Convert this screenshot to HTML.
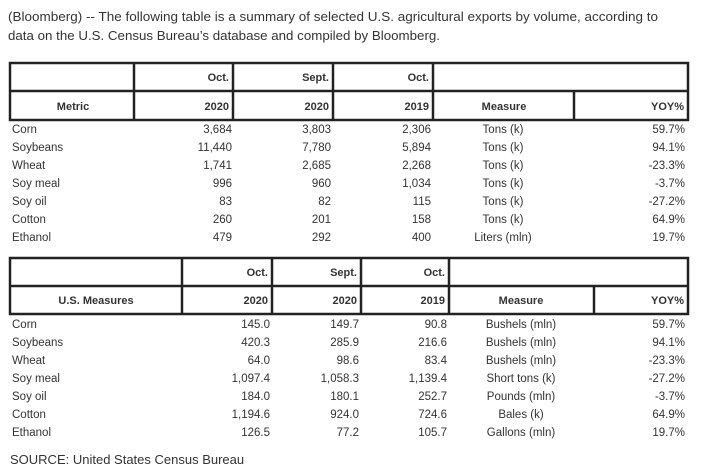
<!DOCTYPE html>
<html><head><meta charset="utf-8"><style>
html,body{margin:0;padding:0;background:#fff}
svg{display:block}
text{font-family:"Liberation Sans",sans-serif;fill:#333}
.h{font-size:11px;font-weight:bold;fill:#222}
.d{font-size:11.5px;fill:#444}
</style></head><body>
<svg width="701" height="474" viewBox="0 0 701 474" xmlns="http://www.w3.org/2000/svg">
<text x="8" y="21" font-size="13" textLength="650" lengthAdjust="spacingAndGlyphs">(Bloomberg) --  The following table is a summary of selected U.S. agricultural exports by volume, according to</text>
<text x="8" y="40" font-size="13" textLength="432" lengthAdjust="spacingAndGlyphs">data on the U.S. Census Bureau’s database and compiled by Bloomberg.</text>

<g stroke="#222" stroke-width="2.5" fill="none">
<rect x="10" y="63" width="678" height="57"/>
<line x1="10" y1="91" x2="688" y2="91"/>
<line x1="134" y1="63" x2="134" y2="120"/>
<line x1="233" y1="63" x2="233" y2="120"/>
<line x1="333" y1="63" x2="333" y2="120"/>
<line x1="433" y1="63" x2="433" y2="120"/>
<line x1="574" y1="91" x2="574" y2="120"/>

<rect x="10" y="258" width="678" height="56"/>
<line x1="10" y1="286" x2="688" y2="286"/>
<line x1="182" y1="258" x2="182" y2="314"/>
<line x1="272" y1="258" x2="272" y2="314"/>
<line x1="361" y1="258" x2="361" y2="314"/>
<line x1="449" y1="258" x2="449" y2="314"/>
<line x1="594" y1="286" x2="594" y2="314"/>
</g>

<g class="h">
<text x="229" y="81" text-anchor="end">Oct.</text>
<text x="329" y="81" text-anchor="end">Sept.</text>
<text x="429" y="81" text-anchor="end">Oct.</text>
<text x="73" y="110" text-anchor="middle">Metric</text>
<text x="229" y="110" text-anchor="end">2020</text>
<text x="329" y="110" text-anchor="end">2020</text>
<text x="429" y="110" text-anchor="end">2019</text>
<text x="504" y="110" text-anchor="middle">Measure</text>
<text x="684" y="110" text-anchor="end">YOY%</text>

<text x="268" y="276" text-anchor="end">Oct.</text>
<text x="357" y="276" text-anchor="end">Sept.</text>
<text x="445" y="276" text-anchor="end">Oct.</text>
<text x="96" y="304" text-anchor="middle">U.S. Measures</text>
<text x="268" y="304" text-anchor="end">2020</text>
<text x="357" y="304" text-anchor="end">2020</text>
<text x="445" y="304" text-anchor="end">2019</text>
<text x="521" y="304" text-anchor="middle">Measure</text>
<text x="684" y="304" text-anchor="end">YOY%</text>
</g>

<g class="d">
<g>
<text x="12" y="133">Corn</text><text x="12" y="151">Soybeans</text><text x="12" y="169">Wheat</text><text x="12" y="187">Soy meal</text><text x="12" y="205">Soy oil</text><text x="12" y="223">Cotton</text><text x="12" y="241">Ethanol</text>
</g>
<g text-anchor="end">
<text x="232" y="133">3,684</text><text x="232" y="151">11,440</text><text x="232" y="169">1,741</text><text x="232" y="187">996</text><text x="232" y="205">83</text><text x="232" y="223">260</text><text x="232" y="241">479</text>
<text x="331" y="133">3,803</text><text x="331" y="151">7,780</text><text x="331" y="169">2,685</text><text x="331" y="187">960</text><text x="331" y="205">82</text><text x="331" y="223">201</text><text x="331" y="241">292</text>
<text x="431" y="133">2,306</text><text x="431" y="151">5,894</text><text x="431" y="169">2,268</text><text x="431" y="187">1,034</text><text x="431" y="205">115</text><text x="431" y="223">158</text><text x="431" y="241">400</text>
<text x="685" y="133">59.7%</text><text x="685" y="151">94.1%</text><text x="685" y="169">-23.3%</text><text x="685" y="187">-3.7%</text><text x="685" y="205">-27.2%</text><text x="685" y="223">64.9%</text><text x="685" y="241">19.7%</text>
</g>
<g text-anchor="middle">
<text x="503" y="133">Tons (k)</text><text x="503" y="151">Tons (k)</text><text x="503" y="169">Tons (k)</text><text x="503" y="187">Tons (k)</text><text x="503" y="205">Tons (k)</text><text x="503" y="223">Tons (k)</text><text x="503" y="241">Liters (mln)</text>
</g>

<g>
<text x="12" y="328">Corn</text><text x="12" y="346">Soybeans</text><text x="12" y="364">Wheat</text><text x="12" y="382">Soy meal</text><text x="12" y="400">Soy oil</text><text x="12" y="418">Cotton</text><text x="12" y="436">Ethanol</text>
</g>
<g text-anchor="end">
<text x="270" y="328">145.0</text><text x="270" y="346">420.3</text><text x="270" y="364">64.0</text><text x="270" y="382">1,097.4</text><text x="270" y="400">184.0</text><text x="270" y="418">1,194.6</text><text x="270" y="436">126.5</text>
<text x="359" y="328">149.7</text><text x="359" y="346">285.9</text><text x="359" y="364">98.6</text><text x="359" y="382">1,058.3</text><text x="359" y="400">180.1</text><text x="359" y="418">924.0</text><text x="359" y="436">77.2</text>
<text x="447" y="328">90.8</text><text x="447" y="346">216.6</text><text x="447" y="364">83.4</text><text x="447" y="382">1,139.4</text><text x="447" y="400">252.7</text><text x="447" y="418">724.6</text><text x="447" y="436">105.7</text>
<text x="685" y="328">59.7%</text><text x="685" y="346">94.1%</text><text x="685" y="364">-23.3%</text><text x="685" y="382">-27.2%</text><text x="685" y="400">-3.7%</text><text x="685" y="418">64.9%</text><text x="685" y="436">19.7%</text>
</g>
<g text-anchor="middle">
<text x="521" y="328">Bushels (mln)</text><text x="521" y="346">Bushels (mln)</text><text x="521" y="364">Bushels (mln)</text><text x="521" y="382">Short tons (k)</text><text x="521" y="400">Pounds (mln)</text><text x="521" y="418">Bales (k)</text><text x="521" y="436">Gallons (mln)</text>
</g>
</g>
<text x="10" y="464" font-size="13" fill="#333">SOURCE: United States Census Bureau</text>
</svg>
</body></html>
